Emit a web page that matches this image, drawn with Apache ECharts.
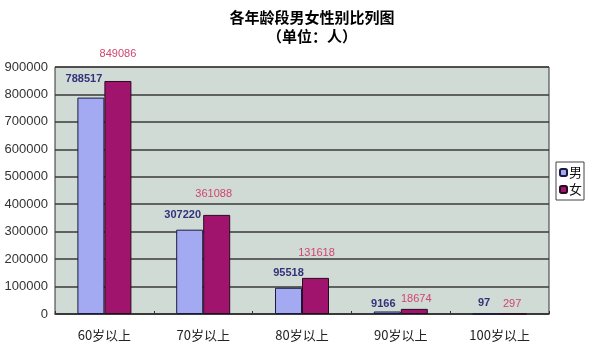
<!DOCTYPE html>
<html>
<head>
<meta charset="utf-8">
<script src="https://cdn.jsdelivr.net/npm/echarts@6/dist/echarts.min.js"></script>
<style>
  html, body { margin: 0; padding: 0; background: #fff; }
  #chart { width: 601px; height: 356px; }
</style>
</head>
<body>
<div id="chart"></div>
<script>
// age groups and counts (people)
const categories = ['60岁以上', '70岁以上', '80岁以上', '90岁以上', '100岁以上'];
const maleValues = [788517, 307220, 95518, 9166, 97];
const femaleValues = [849086, 361088, 131618, 18674, 297];
const seriesNames = ['男', '女'];

// label placement tweaks (the original labels don't sit at a constant height)
const maleLabelGap = [13, 9, 9, 2, 5];
const maleLabelShift = [-7, -7, 0, -4, -2];
const femaleLabelGap = [22, 15, 19, 4, 4];
const femaleLabelShift = [0, -3, 1, 2, -1];

const numFont = '"Liberation Sans", Arial, sans-serif';
const cjkFont = '"Noto Sans CJK SC", "Liberation Sans", sans-serif';

const withLabels = (vals, gaps, shifts) => vals.map((v, i) => ({
    value: v,
    label: { distance: gaps[i], offset: [shifts[i], 0] }
}));

const chart = echarts.init(document.getElementById('chart'));

chart.setOption({
    backgroundColor: '#ffffff',
    animation: false,
    title: {
        text: '各年龄段男女性别比列图\n（单位：人）',
        left: 307,
        textAlign: 'center',
        top: 3,
        textStyle: {
            fontFamily: cjkFont,
            fontSize: 15,
            fontWeight: 'bold',
            color: '#000',
            lineHeight: 19
        }
    },
    legend: {
        orient: 'vertical',
        left: 556,
        top: 162,
        data: seriesNames,
        itemWidth: 7,
        itemHeight: 7,
        itemGap: 4,
        padding: [4, 2, 4, 3],
        borderColor: '#444',
        borderWidth: 1,
        backgroundColor: '#fff',
        textStyle: { fontFamily: cjkFont, fontSize: 13, color: '#111', padding: [0, 0, 0, -3] }
    },
    grid: {
        left: 55,
        right: 52,
        top: 67,
        bottom: 42,
        show: true,
        backgroundColor: '#d0dbd5',
        borderColor: '#333',
        borderWidth: 1
    },
    xAxis: {
        type: 'category',
        data: categories,
        axisLine: { lineStyle: { color: '#333', width: 1.5 } },
        axisTick: { show: true, inside: true, length: 3, lineStyle: { color: '#333' } },
        axisLabel: { fontFamily: cjkFont, fontSize: 13, color: '#222', margin: 15 }
    },
    yAxis: {
        type: 'value',
        min: 0,
        max: 900000,
        interval: 100000,
        axisLine: { show: false },
        axisTick: { show: false },
        axisLabel: {
            fontFamily: numFont,
            fontSize: 13,
            color: '#333',
            margin: 7,
            formatter: v => String(v)
        },
        splitLine: { lineStyle: { color: '#3a3a3a', width: 1.5 } }
    },
    series: [
        {
            name: seriesNames[0],
            type: 'bar',
            data: withLabels(maleValues, maleLabelGap, maleLabelShift),
            barWidth: 27,
            barGap: '0%',
            itemStyle: { color: '#a3aaf2', borderColor: '#1a1a40', borderWidth: 1 },
            label: {
                show: true,
                position: 'top',
                fontFamily: numFont,
                fontSize: 11,
                fontWeight: 'bold',
                color: '#33337a'
            }
        },
        {
            name: seriesNames[1],
            type: 'bar',
            data: withLabels(femaleValues, femaleLabelGap, femaleLabelShift),
            barWidth: 27,
            barGap: '0%',
            itemStyle: { color: '#a0146e', borderColor: '#2a0a20', borderWidth: 1 },
            label: {
                show: true,
                position: 'top',
                fontFamily: numFont,
                fontSize: 11,
                color: '#d0456e'
            }
        }
    ]
});
</script>
</body>
</html>
